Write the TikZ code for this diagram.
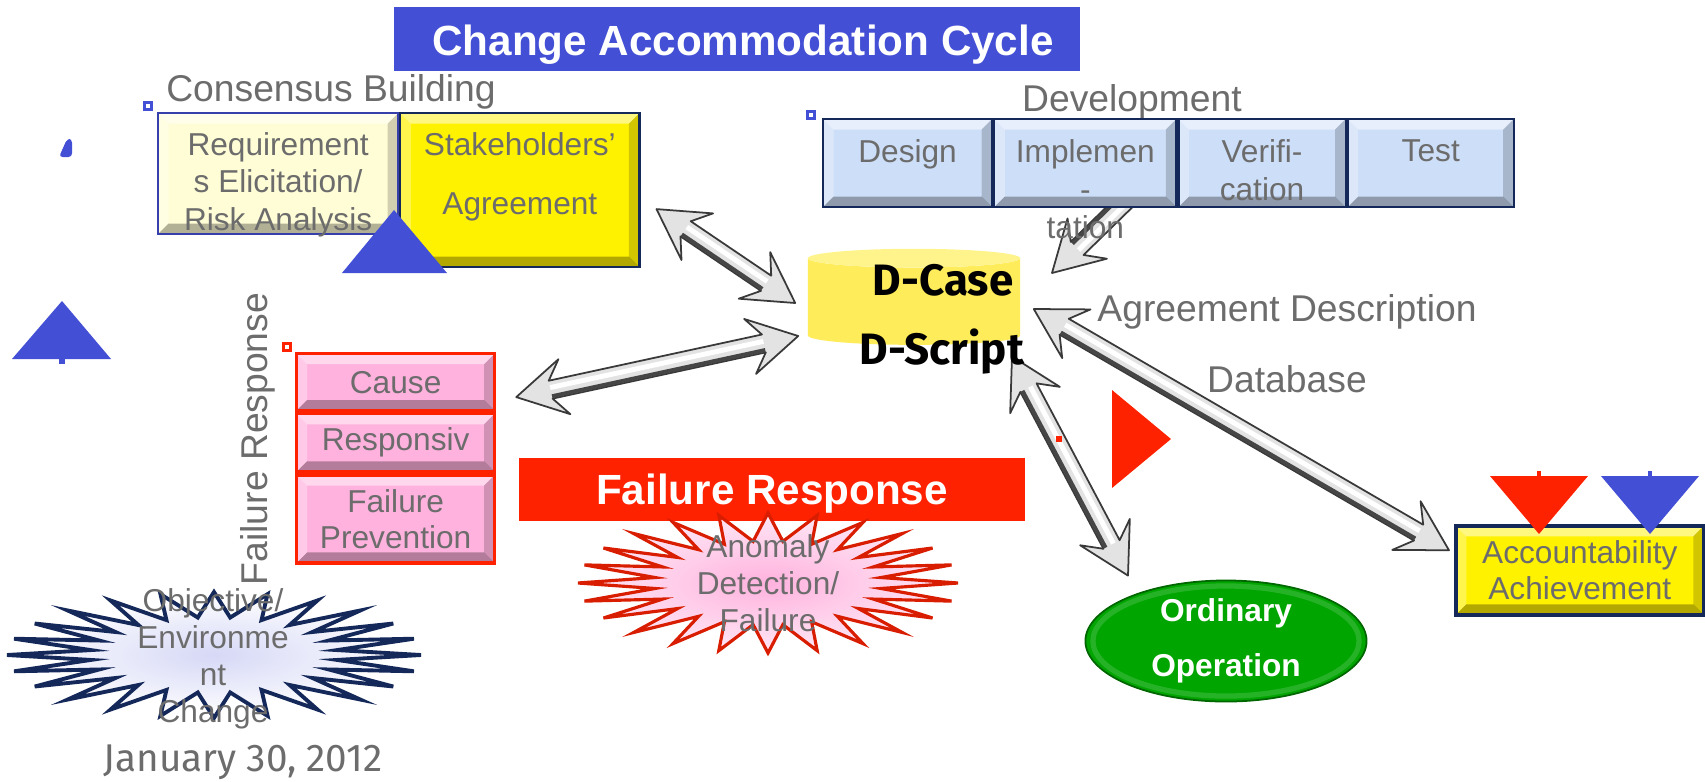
\documentclass[tikz,border=0pt]{standalone}
\usepackage{fontspec}
\setmainfont{Liberation Sans}
\newfontfamily\dinfont{Fira Sans}
\usetikzlibrary{positioning, calc, shapes.geometric}

\definecolor{capblue}{RGB}{67,79,212}
\definecolor{capred}{RGB}{255,34,0}
\definecolor{txtgray}{RGB}{108,108,108}
\definecolor{cream}{RGB}{255,253,214}
\definecolor{lightblue}{RGB}{205,223,248}
\definecolor{pinkfill}{RGB}{255,178,222}
\definecolor{navy}{RGB}{20,40,90}
\definecolor{dcyl}{RGB}{255,236,90}
\definecolor{dcyltop}{RGB}{255,244,140}
\definecolor{okgreen}{RGB}{0,165,0}
\definecolor{lavender}{RGB}{214,216,246}

\pgfdeclarelayer{back}
\pgfsetlayers{back,main}

% light and dark edges for the bevelled boxes
\newcommand\boxbevel[1]{%
  \fill[white,opacity=.5] (path picture bounding box.north west) -- (path picture bounding box.north east)
    -- ([shift={(-#1,-#1)}]path picture bounding box.north east) -- ([shift={(#1,-#1)}]path picture bounding box.north west) -- cycle;
  \fill[white,opacity=.3] (path picture bounding box.north west) -- ([shift={(#1,-#1)}]path picture bounding box.north west)
    -- ([shift={(#1,#1)}]path picture bounding box.south west) -- (path picture bounding box.south west) -- cycle;
  \fill[black,opacity=.3] (path picture bounding box.south west) -- (path picture bounding box.south east)
    -- ([shift={(-#1,#1)}]path picture bounding box.south east) -- ([shift={(#1,#1)}]path picture bounding box.south west) -- cycle;
  \fill[black,opacity=.18] (path picture bounding box.north east) -- (path picture bounding box.south east)
    -- ([shift={(-#1,#1)}]path picture bounding box.south east) -- ([shift={(-#1,-#1)}]path picture bounding box.north east) -- cycle;
}

% silver double arrow between two points
\newcommand\silverlink[2]{%
  \coordinate (ha) at ($(#1)!14pt!(#2)$);
  \coordinate (na) at ($(#1)!10pt!(#2)$);
  \coordinate (hb) at ($(#2)!14pt!(#1)$);
  \coordinate (nb) at ($(#2)!10pt!(#1)$);
  \filldraw[silver] (#1) -- ($(ha)!8pt!90:(#2)$) -- ($(na)!2.6pt!90:(#2)$)
    -- ($(nb)!2.6pt!-90:(#1)$) -- ($(hb)!8pt!-90:(#1)$) -- (#2)
    -- ($(hb)!8pt!90:(#1)$) -- ($(nb)!2.6pt!90:(#1)$)
    -- ($(na)!2.6pt!-90:(#2)$) -- ($(ha)!8pt!-90:(#2)$) -- cycle;
  \draw[gray!55!black, line width=1.1pt] ($(na)!1.9pt!-90:(#2)$) -- ($(nb)!1.9pt!90:(#1)$);
  \draw[white, line width=1.4pt] ($(na)!0.6pt!90:(#2)$) -- ($(nb)!0.6pt!-90:(#1)$);
}

% spiky burst round a centre
\newcommand\burst[4]{%
  \filldraw[#4, shift={(#1)}] plot[samples at={0,...,47}, variable=\k]
    ({(1-0.4*mod(\k,2))*#2*cos(7.5*\k)}, {(1-0.4*mod(\k,2))*#3*sin(7.5*\k)}) -- cycle;
}

\begin{document}
\begin{tikzpicture}[x=0.01cm, y=-0.01cm,
  lbl/.style={text=txtgray, font=\fontsize{10.6}{13}\selectfont, inner sep=0pt},
  boxtext/.style={text=txtgray, align=center, inner sep=0pt, font=\fontsize{9}{10.6}\selectfont},
  bannertext/.style={text=white, font=\bfseries\fontsize{12}{14}\selectfont, inner sep=0pt},
  bevelbox/.style={draw=navy, line width=0.6pt, inner sep=0pt, path picture={\boxbevel{3pt}}},
  devbox/.style={bevelbox, fill=lightblue, minimum height=0.88cm},
  pinkbox/.style={bevelbox, draw=capred, line width=0.9pt, fill=pinkfill, minimum width=1.98cm,
    text=txtgray, align=center, font=\fontsize{9}{10.2}\selectfont},
  handle/.style={draw=#1, line width=0.8pt, fill=white, minimum size=2.2pt, inner sep=0pt},
  dtext/.style={font=\dinfont\bfseries\fontsize{12.5}{14}\selectfont, inner sep=0pt},
  silver/.style={fill=gray!22, draw=gray!45!black, line width=0.5pt, line join=round},
]
\useasboundingbox (0,0) rectangle (1705,781);

% Title
\node[fill=capblue, minimum width=6.86cm, minimum height=0.63cm] (title) at (737,39) {};
\node[bannertext] (titletext) at (743,45) {Change Accommodation Cycle};

% Consensus building
\node[lbl] (consensus) at (331,92) {Consensus Building};
\node[handle=capblue] (h1) at (148,106) {};
\node[bevelbox, draw=capblue!80!black, fill=cream, minimum width=2.4cm, minimum height=1.21cm,
  anchor=north west] (req) at (157,112) {};
\node[bevelbox, fill=yellow, minimum width=2.39cm, minimum height=1.54cm, anchor=north west]
  (stake) at (req.north east) {};
\node[boxtext, anchor=north] (reqtext) at ([yshift=-5.7pt]req.north) {Requirement\\s Elicitation/\\Risk Analysis};
\node[boxtext, anchor=north, font=\fontsize{9}{16.8}\selectfont] (staketext) at ([yshift=-5.7pt]stake.north)
  {Stakeholders’\\Agreement};
\fill[capblue] (394,210) -- (447,273) -- (342,273) -- cycle;

% blue marks on the left
\fill[capblue, rounded corners=1pt] (59,157) -- (72,157) -- (72,139) -- (67,139) -- cycle;
\fill[capblue] (62,301) -- (111,359) -- (12,359) -- cycle;
\fill[capblue] (59,359) rectangle (65,364);

% Development
\node[lbl] (devlabel) at (1132,102) {Development};
\node[handle=capblue] (h2) at (811,115) {};
\node[devbox, minimum width=1.69cm, anchor=north west] (design) at (822,118) {};
\node[devbox, minimum width=1.82cm, right=0pt of design] (implement) {};
\node[devbox, minimum width=1.67cm, right=0pt of implement] (verify) {};
\node[devbox, minimum width=1.66cm, right=0pt of verify] (test) {};
\foreach \b/\t in {design/Design, implement/{Implemen\\-\\tation}, verify/{Verifi-\\cation}, test/Test}
  \node[boxtext, anchor=north, font=\fontsize{9}{10.8}\selectfont] (\b-text) at ([yshift=-6pt]\b.north) {\t};

% D-Case database
\node[cylinder, shape border rotate=90, aspect=0.8, minimum width=2.12cm, minimum height=0.96cm,
  cylinder uses custom fill, cylinder body fill=dcyl, cylinder end fill=dcyltop] (dbase) at (914,304) {};
\node[dtext] (dcase) at (943,280) {D-Case};
\node[dtext] (dscript) at (942,352) {D-Script};
\node[lbl] (agreelabel) at (1287,312) {Agreement Description};
\node[lbl] (dblabel) at (1287,379) {Database};

% Failure response
\node[lbl, rotate=90] (frlabel) at (258,439) {Failure Response};
\node[handle=capred] (h3) at (287,347) {};
\node[pinkbox, minimum height=0.57cm, anchor=north west] (cause) at (295,352) {Cause};
\node[pinkbox, minimum height=0.58cm, below=0pt of cause] (respond) {Responsiv};
\node[pinkbox, minimum height=0.88cm, below=0pt of respond] (prevent) {Failure\\Prevention};

\node[fill=capred, minimum width=5.06cm, minimum height=0.63cm] (frbanner) at (772,489.5) {};
\node[bannertext] (frtext) at (772,494) {Failure Response};

\coordinate (anomalyc) at (768,583);
\burst{anomalyc}{190}{70}{draw=capred!85!black, line width=0.9pt, inner color=pinkfill, outer color=pinkfill!30}
\node[boxtext, font=\fontsize{9}{10.5}\selectfont] (anomaly) at (anomalyc) {Anomaly\\Detection/\\Failure};

\coordinate (objectivec) at (214,655);
\burst{objectivec}{207}{63}{draw=navy, line width=1.1pt, inner color=lavender, outer color=white}
\node[boxtext, font=\fontsize{9}{10.5}\selectfont] (objective) at (213,659) {Objective/\\Environme\\nt\\Change};
\node[lbl, font=\dinfont\fontsize{11}{13}\selectfont] (date) at (243,762) {January 30, 2012};

% red pointer and dot
\fill[capred] (1112,390) -- (1171,439) -- (1112,488) -- cycle;
\fill[capred] (1056,436) rectangle (1062,442);

% Ordinary operation
\node[ellipse, fill=okgreen, draw=green!40!black, line width=0.5pt, minimum width=2.81cm, minimum height=1.21cm,
  text=white, font=\bfseries\fontsize{9}{15.6}\selectfont, align=center, inner sep=0pt,
  path picture={\draw[white, opacity=.15, line width=1.5pt] (path picture bounding box.center) ellipse (1.33cm and 0.55cm);}]
  (ordinary) at (1226,641) {Ordinary\\Operation};

% Accountability
\node[bevelbox, fill=yellow, line width=1pt, minimum width=2.48cm, minimum height=0.89cm, align=center,
  text=txtgray, font=\fontsize{9}{10.2}\selectfont, anchor=north west] (account) at (1454,524)
  {Accountability\\Achievement};
\fill[capred] (1490,476) -- (1588,476) -- (1539,534) -- cycle;
\fill[capred] (1537,471) rectangle (1541,476);
\fill[capblue] (1601,476) -- (1699,476) -- (1650,534) -- cycle;
\fill[capblue] (1648,471) rectangle (1652,476);

% Arrows
\coordinate (s1) at ($(stake.east)+(16,19)$);
\coordinate (d1) at ($(dbase.west)+(-12,-1)$);
\coordinate (c2) at ($(cause.east)+(20,15)$);
\coordinate (d2) at ($(dbase.west)+(-9,32)$);
\coordinate (d3) at ($(dbase.south)+(98,11)$);
\coordinate (o3) at ($(ordinary.north)+(-98,-4)$);
\coordinate (d4) at ($(dbase.east)+(13,5)$);
\coordinate (a4) at ($(account.west)+(-5,-20)$);
\coordinate (i5) at (1185,143);
\coordinate (d5) at (1052,273);
\begin{pgfonlayer}{back}
  \silverlink{s1}{d1}
  \silverlink{c2}{d2}
  \silverlink{d3}{o3}
  \silverlink{d4}{a4}
  \silverlink{i5}{d5}
\end{pgfonlayer}
\end{tikzpicture}
\end{document}
